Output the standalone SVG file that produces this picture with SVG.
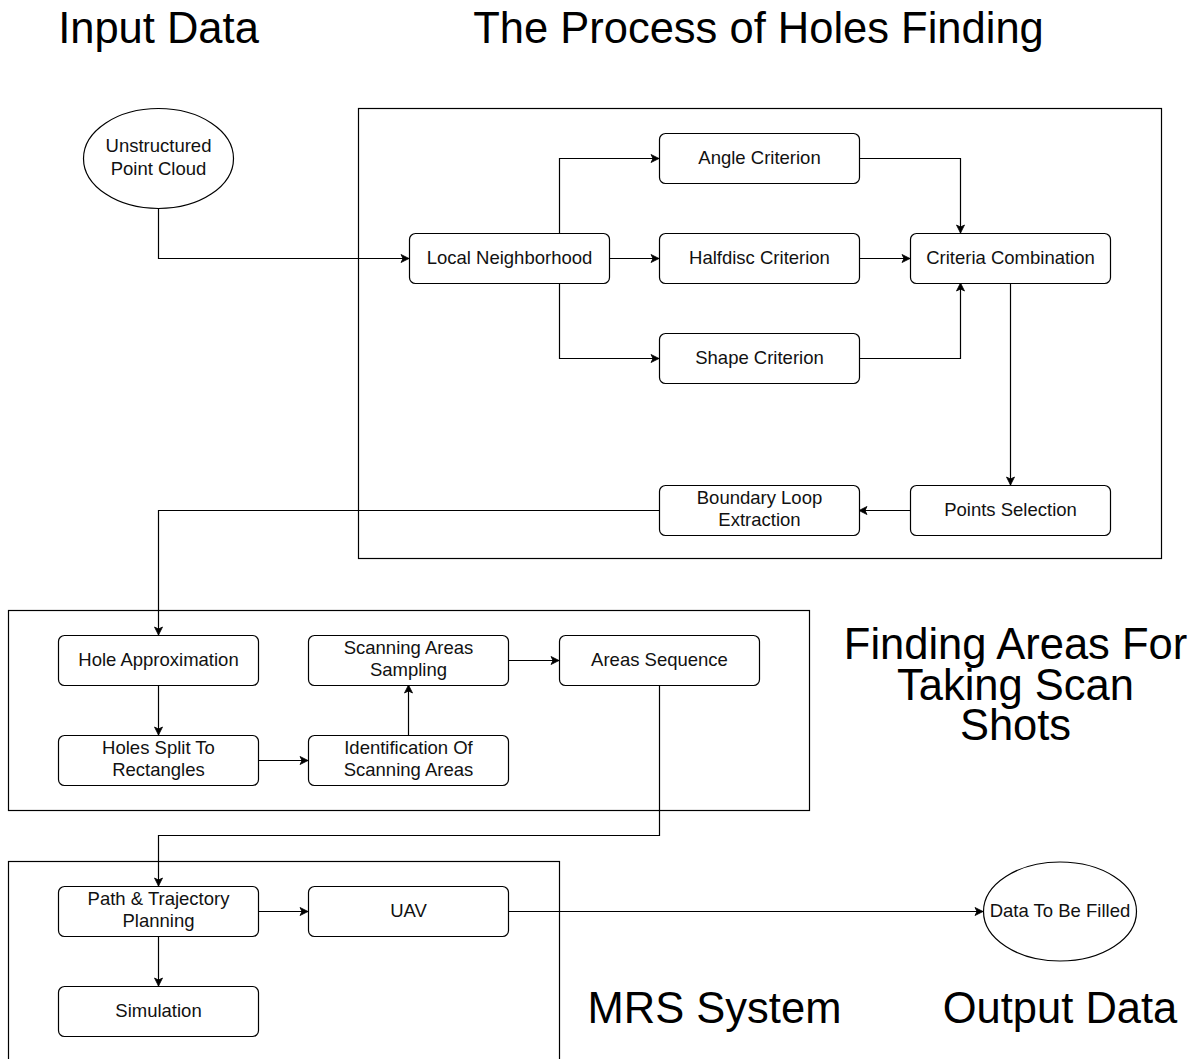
<svg xmlns="http://www.w3.org/2000/svg" width="1190" height="1059" viewBox="0 0 1190 1059">
<style>
.bg{fill:#ffffff}
.box{fill:#ffffff;stroke:#000;stroke-width:1.2}
.cont{fill:none;stroke:#000;stroke-width:1.2}
.t{font-family:"Liberation Sans",Arial,sans-serif;font-size:18.5px;fill:#111;text-anchor:middle}
.title{font-family:"Liberation Sans",Arial,sans-serif;font-size:43.5px;fill:#000;text-anchor:middle}
.edge{fill:none;stroke:#000;stroke-width:1.2}
.arr{marker-end:url(#ah)}
</style>
<defs>
<marker id="ah" markerUnits="userSpaceOnUse" markerWidth="10" markerHeight="10" refX="9" refY="5" orient="auto">
<path d="M1,1 L9,5 L1,9 L3,5 Z" fill="#000" stroke="#000" stroke-width="0.8"/>
</marker>
</defs>
<rect class="bg" x="0" y="0" width="1190" height="1059"/>

<g id="titles">
<text class="title" x="158.5" y="43">Input Data</text>
<text class="title" x="758.5" y="43">The Process of Holes Finding</text>
<text class="title" x="1015.5" y="659">Finding Areas For</text>
<text class="title" x="1015.5" y="699.5">Taking Scan</text>
<text class="title" x="1015.5" y="740">Shots</text>
<text class="title" x="714.5" y="1023">MRS System</text>
<text class="title" x="1060" y="1023">Output Data</text>
</g>

<g id="containers">
<rect id="c-holes" class="cont" x="358.5" y="108.5" width="803" height="450"/>
<rect id="c-areas" class="cont" x="8.5" y="610.5" width="801" height="200"/>
<rect id="c-mrs" class="cont" x="8.5" y="861.5" width="551" height="240"/>
</g>

<g id="connectors">
<path class="edge arr" d="M158.5,208 V258.5 H409"/>
<path class="edge arr" d="M559.5,233 V158.5 H659"/>
<path class="edge arr" d="M609,258.5 H659"/>
<path class="edge arr" d="M559.5,283 V358.5 H659"/>
<path class="edge arr" d="M859,158.5 H960.5 V233"/>
<path class="edge arr" d="M859,258.5 H910"/>
<path class="edge arr" d="M859,358.5 H960.5 V283"/>
<path class="edge arr" d="M1010.5,283 V485"/>
<path class="edge arr" d="M910,510.5 H859"/>
<path class="edge arr" d="M659,510.5 H158.5 V635"/>
<path class="edge arr" d="M158.5,685 V735"/>
<path class="edge arr" d="M258,760.5 H308"/>
<path class="edge arr" d="M408.5,735 V685"/>
<path class="edge arr" d="M508,660.5 H559"/>
<path class="edge arr" d="M659.5,685 V835.5 H158.5 V886"/>
<path class="edge arr" d="M158.5,936 V986"/>
<path class="edge arr" d="M258,911.5 H308"/>
<path class="edge arr" d="M508,911.5 H983"/>
</g>

<g id="n-pointcloud">
<ellipse class="box" cx="158.5" cy="158.5" rx="75" ry="50"/>
<text class="t" x="158.5" y="152">Unstructured</text>
<text class="t" x="158.5" y="174.5">Point Cloud</text>
</g>
<g id="n-local">
<rect class="box" x="409.5" y="233.5" width="200" height="50" rx="6"/>
<text class="t" x="509.5" y="263.5">Local Neighborhood</text>
</g>
<g id="n-angle">
<rect class="box" x="659.5" y="133.5" width="200" height="50" rx="6"/>
<text class="t" x="759.5" y="163.5">Angle Criterion</text>
</g>
<g id="n-halfdisc">
<rect class="box" x="659.5" y="233.5" width="200" height="50" rx="6"/>
<text class="t" x="759.5" y="263.5">Halfdisc Criterion</text>
</g>
<g id="n-shape">
<rect class="box" x="659.5" y="333.5" width="200" height="50" rx="6"/>
<text class="t" x="759.5" y="363.5">Shape Criterion</text>
</g>
<g id="n-combination">
<rect class="box" x="910.5" y="233.5" width="200" height="50" rx="6"/>
<text class="t" x="1010.5" y="263.5">Criteria Combination</text>
</g>
<g id="n-points">
<rect class="box" x="910.5" y="485.5" width="200" height="50" rx="6"/>
<text class="t" x="1010.5" y="515.5">Points Selection</text>
</g>
<g id="n-boundary">
<rect class="box" x="659.5" y="485.5" width="200" height="50" rx="6"/>
<text class="t" x="759.5" y="503.5">Boundary Loop</text>
<text class="t" x="759.5" y="525.5">Extraction</text>
</g>
<g id="n-holeapprox">
<rect class="box" x="58.5" y="635.5" width="200" height="50" rx="6"/>
<text class="t" x="158.5" y="665.5">Hole Approximation</text>
</g>
<g id="n-sampling">
<rect class="box" x="308.5" y="635.5" width="200" height="50" rx="6"/>
<text class="t" x="408.5" y="653.5">Scanning Areas</text>
<text class="t" x="408.5" y="675.5">Sampling</text>
</g>
<g id="n-sequence">
<rect class="box" x="559.5" y="635.5" width="200" height="50" rx="6"/>
<text class="t" x="659.5" y="665.5">Areas Sequence</text>
</g>
<g id="n-split">
<rect class="box" x="58.5" y="735.5" width="200" height="50" rx="6"/>
<text class="t" x="158.5" y="753.5">Holes Split To</text>
<text class="t" x="158.5" y="775.5">Rectangles</text>
</g>
<g id="n-identification">
<rect class="box" x="308.5" y="735.5" width="200" height="50" rx="6"/>
<text class="t" x="408.5" y="753.5">Identification Of</text>
<text class="t" x="408.5" y="775.5">Scanning Areas</text>
</g>
<g id="n-path">
<rect class="box" x="58.5" y="886.5" width="200" height="50" rx="6"/>
<text class="t" x="158.5" y="904.5">Path &amp; Trajectory</text>
<text class="t" x="158.5" y="926.5">Planning</text>
</g>
<g id="n-uav">
<rect class="box" x="308.5" y="886.5" width="200" height="50" rx="6"/>
<text class="t" x="408.5" y="916.5">UAV</text>
</g>
<g id="n-simulation">
<rect class="box" x="58.5" y="986.5" width="200" height="50" rx="6"/>
<text class="t" x="158.5" y="1016.5">Simulation</text>
</g>
<g id="n-output">
<ellipse class="box" cx="1060" cy="911.5" rx="76.5" ry="49.5"/>
<text class="t" x="1060" y="917">Data To Be Filled</text>
</g>
</svg>
